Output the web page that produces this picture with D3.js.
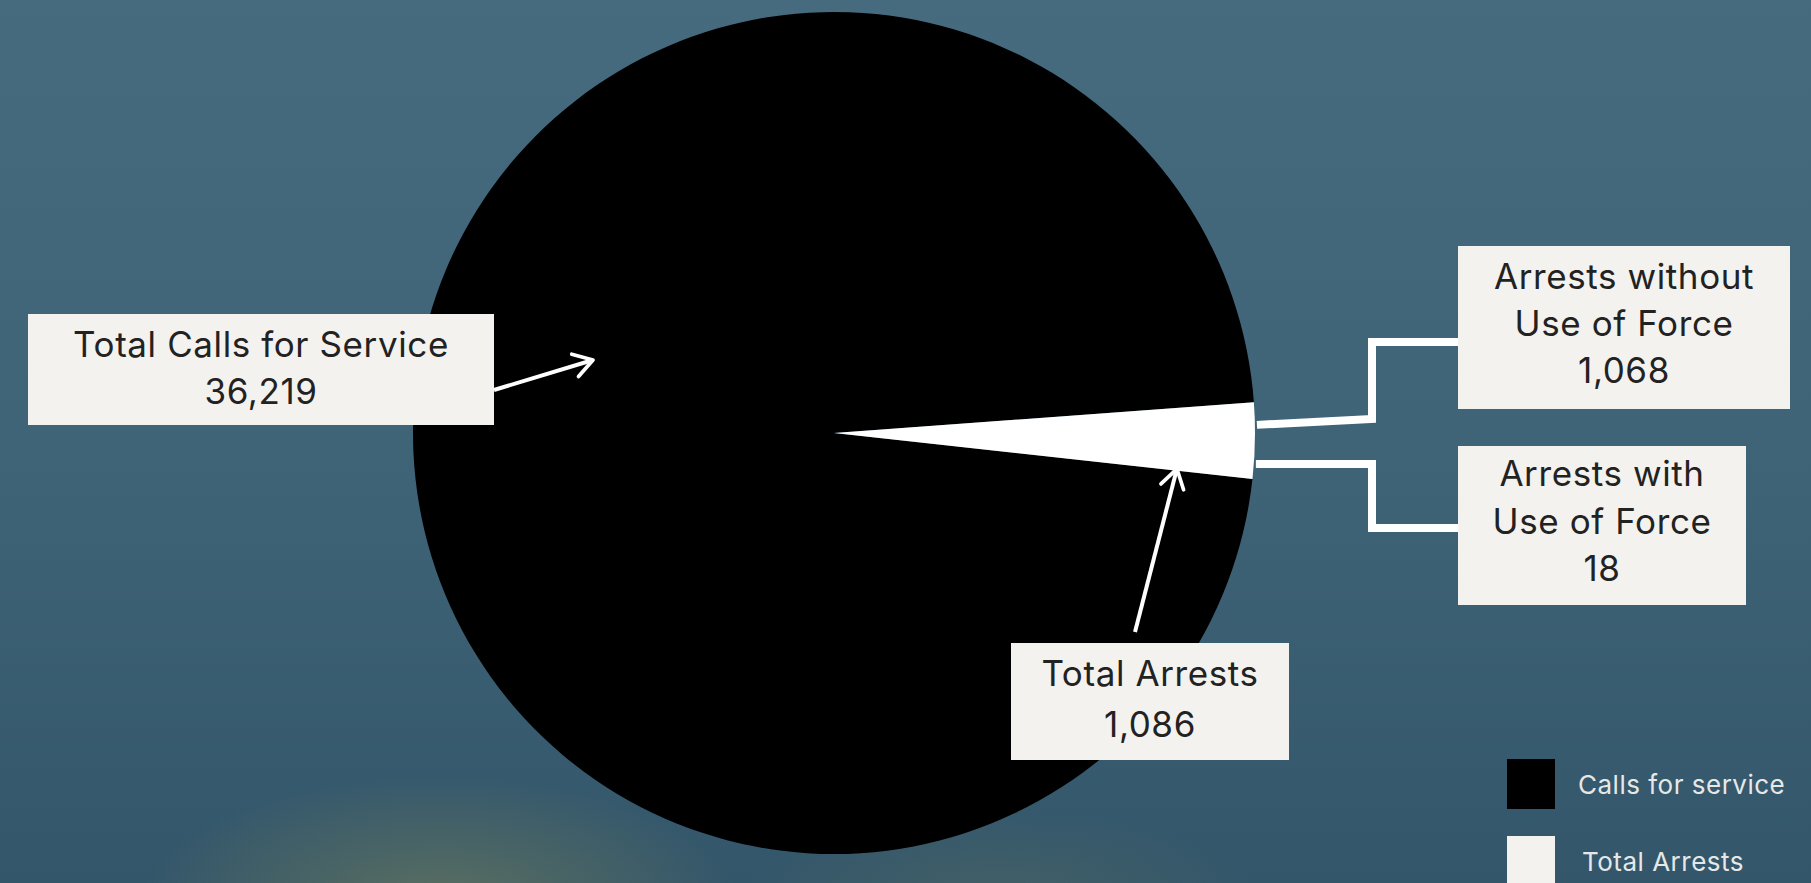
<!DOCTYPE html>
<html>
<head>
<meta charset="utf-8">
<script src="https://cdn.jsdelivr.net/npm/d3@7"></script>
<style>
  html, body { margin: 0; padding: 0; overflow: hidden; background: #3f6376; }
  svg { display: block; }
</style>
</head>
<body>
<div id="chart"></div>
<script>
// pie data
const categories = ['Calls for service', 'Total Arrests'];
const values = [36219, 1086];
// breakdown of the arrests slice
const arrestTypes = ['Arrests without Use of Force', 'Arrests with Use of Force'];
const arrestValues = [1068, 18];
// callout labels
const callLabel = ['Total Calls for Service', '36,219'];
const arrestLabel = ['Total Arrests', '1,086'];
const withoutLabel = ['Arrests without', 'Use of Force', '1,068'];
const withLabel = ['Arrests with', 'Use of Force', '18'];

const width = 1811, height = 883;
const cx = 834, cy = 433, radius = 421;
const font = 'Inter, "Open Sans", sans-serif';

const svg = d3.select('#chart').append('svg')
    .attr('width', width)
    .attr('height', height);

const defs = svg.append('defs');

// background gradient + faint warm glow at bottom
const bg = defs.append('linearGradient').attr('id', 'bg')
    .attr('x1', 0).attr('y1', 0).attr('x2', 0).attr('y2', 1);
bg.append('stop').attr('offset', '0%').attr('stop-color', '#476b7e');
bg.append('stop').attr('offset', '55%').attr('stop-color', '#3e6276');
bg.append('stop').attr('offset', '100%').attr('stop-color', '#33566a');

const glow = defs.append('radialGradient').attr('id', 'glow');
glow.append('stop').attr('offset', '0%').attr('stop-color', '#6c7a5c').attr('stop-opacity', 0.7);
glow.append('stop').attr('offset', '100%').attr('stop-color', '#6c7a5c').attr('stop-opacity', 0);

svg.append('rect').attr('width', width).attr('height', height).attr('fill', 'url(#bg)');
svg.append('ellipse')
    .attr('cx', 440).attr('cy', 905).attr('rx', 300).attr('ry', 130)
    .attr('fill', 'url(#glow)');
svg.append('ellipse')
    .attr('cx', 1000).attr('cy', 900).attr('rx', 260).attr('ry', 90)
    .attr('fill', 'url(#glow)').attr('opacity', 0.4);

// arrow head marker (open chevron)
defs.append('marker').attr('id', 'arrow')
    .attr('viewBox', '0 0 12 12')
    .attr('refX', 10).attr('refY', 6)
    .attr('markerWidth', 7).attr('markerHeight', 7)
    .attr('markerUnits', 'strokeWidth')
    .attr('orient', 'auto')
  .append('path')
    .attr('d', 'M2,1 L10,6 L2,11')
    .attr('fill', 'none')
    .attr('stroke', '#fff')
    .attr('stroke-width', 1.6)
    .attr('stroke-linecap', 'round')
    .attr('stroke-linejoin', 'round');

// pie, rotated so the arrests slice points to the right
const total = d3.sum(values);
const arrestAngle = values[1] / total * 2 * Math.PI;
const start = Math.PI / 2 + arrestAngle * 0.6;
const pie = d3.pie().sort(null).startAngle(start).endAngle(start + 2 * Math.PI);
const arcs = pie(values);
const arc = d3.arc().innerRadius(0).outerRadius(radius);
const color = d3.scaleOrdinal().domain(categories).range(['#000000', '#ffffff']);

const g = svg.append('g').attr('transform', `translate(${cx},${cy})`);
g.selectAll('path.slice')
    .data(arcs)
    .enter()
    .append('path')
    .attr('class', 'slice')
    .attr('d', arc)
    .attr('fill', (d, i) => color(categories[i]));

// point on the outer edge of the pie at a given angle
function edgePoint(a, r) {
    return [cx + r * Math.sin(a), cy - r * Math.cos(a)];
}

// label box with centred lines
function labelBox(x, y, w, h, lines, baselines, size) {
    svg.append('rect')
        .attr('x', x).attr('y', y).attr('width', w).attr('height', h)
        .attr('fill', '#f4f2ee');
    lines.forEach((t, i) => {
        svg.append('text')
            .attr('x', x + w / 2)
            .attr('y', baselines[i])
            .attr('text-anchor', 'middle')
            .attr('font-family', font)
            .attr('font-size', size)
            .attr('letter-spacing', 0.6)
            .attr('fill', '#222')
            .text(t);
    });
}

// split of the arrests slice for the two connectors
const aStart = arcs[1].startAngle, aEnd = arcs[1].endAngle;
const splitA = aStart + (aEnd - aStart) * arrestValues[0] / values[1];
const upper = edgePoint(aStart + (splitA - aStart) * 0.3, radius + 2);
const lower = edgePoint(aStart + (aEnd - aStart) * 0.8, radius + 2);

const line = d3.line();
svg.append('path')
    .attr('d', line([upper, [1372, upper[1] - 6], [1372, 342], [1460, 342]]))
    .attr('fill', 'none').attr('stroke', '#fff').attr('stroke-width', 8);
svg.append('path')
    .attr('d', line([lower, [1372, lower[1]], [1372, 528], [1460, 528]]))
    .attr('fill', 'none').attr('stroke', '#fff').attr('stroke-width', 8);

// arrows
svg.append('path')
    .attr('d', line([[494, 390], [593, 360]]))
    .attr('stroke', '#fff').attr('stroke-width', 4).attr('fill', 'none')
    .attr('marker-end', 'url(#arrow)');
const arrowTip = edgePoint(aEnd, 345);
svg.append('path')
    .attr('d', line([[1135, 632], [arrowTip[0], arrowTip[1] - 2]]))
    .attr('stroke', '#fff').attr('stroke-width', 4).attr('fill', 'none')
    .attr('marker-end', 'url(#arrow)');

// callouts
labelBox(28, 314, 466, 111, callLabel, [357, 404], 35);
labelBox(1458, 246, 332, 163, withoutLabel, [289, 336, 383], 35);
labelBox(1458, 446, 288, 159, withLabel, [486, 534, 581], 35);
labelBox(1011, 643, 278, 117, arrestLabel, [686, 737], 35);

// legend
const legend = svg.append('g');
legend.selectAll('rect')
    .data(categories)
    .enter()
    .append('rect')
    .attr('x', 1507)
    .attr('y', (d, i) => 759 + i * 77)
    .attr('width', 48)
    .attr('height', 50)
    .attr('fill', d => d === 'Total Arrests' ? '#f4f2ee' : color(d));
legend.selectAll('text')
    .data(categories)
    .enter()
    .append('text')
    .attr('x', (d, i) => 1578 + i * 4)
    .attr('y', (d, i) => 794 + i * 77)
    .attr('font-family', font)
    .attr('font-size', 26)
    .attr('letter-spacing', 0.5)
    .attr('fill', '#e6e8e8')
    .text(d => d);
</script>
</body>
</html>
